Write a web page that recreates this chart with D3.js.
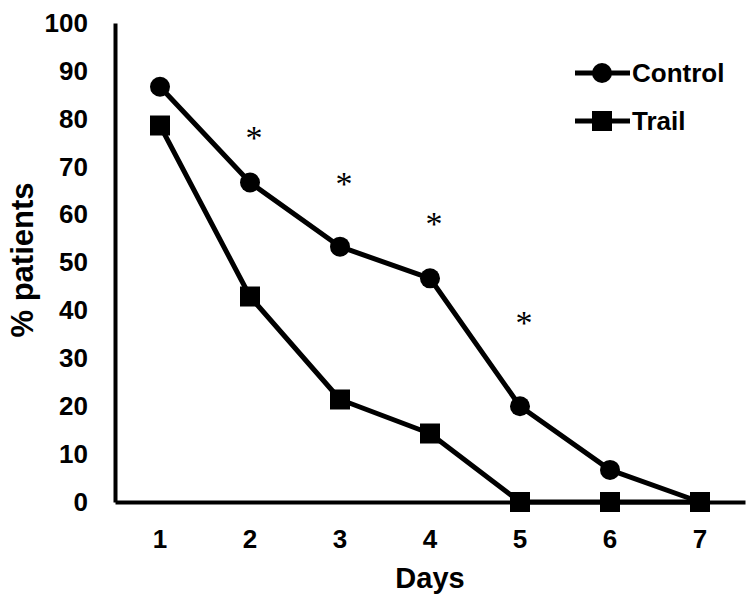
<!DOCTYPE html>
<html><head><meta charset="utf-8">
<script src="https://cdn.jsdelivr.net/npm/d3@7"></script>
<style>body{margin:0;background:#fff}svg{display:block}text{font-family:"Liberation Sans",Arial,sans-serif;font-weight:bold;fill:#000}</style>
</head><body><svg id="c" width="750" height="601"></svg>
<script>
const days = ["1","2","3","4","5","6","7"];
const control = [86.7, 66.7, 53.3, 46.7, 20, 6.7, 0];
const trail = [78.6, 42.9, 21.4, 14.3, 0, 0, 0];
const yTicks = [0,10,20,30,40,50,60,70,80,90,100];
const starDays = ["2","3","4","5"];
const starVals = [77, 67.5, 59, 38.5];

const svg = d3.select("#c");
const x = d3.scaleBand().domain(days).range([115, 745]).padding(0);
const y = d3.scaleLinear().domain([0, 100]).range([502, 23]);
const cx = d => x(d) + x.bandwidth()/2;

// axes
const ya = svg.append("g").attr("transform","translate(115,0)").call(d3.axisLeft(y).tickValues(yTicks).tickSize(0).tickPadding(27));
ya.select(".domain").attr("stroke","#000").attr("stroke-width",4);
ya.selectAll("text").attr("font-size",26).attr("font-family","Liberation Sans, Arial, sans-serif").attr("font-weight","bold");
const xa = svg.append("g").attr("transform","translate(0,502)").call(d3.axisBottom(x).tickSize(0).tickPadding(28));
xa.select(".domain").attr("stroke","#000").attr("stroke-width",4);
xa.selectAll("text").attr("font-size",26).attr("font-family","Liberation Sans, Arial, sans-serif").attr("font-weight","bold");

const line = d3.line().x((d,i)=>cx(days[i])).y(d=>y(d));
svg.append("path").attr("d", line(trail)).attr("fill","none").attr("stroke","#000").attr("stroke-width",5).attr("stroke-linejoin","round");
svg.append("path").attr("d", line(control)).attr("fill","none").attr("stroke","#000").attr("stroke-width",5).attr("stroke-linejoin","round");

svg.selectAll(".sq").data(trail).join("rect").attr("x",(d,i)=>cx(days[i])-10).attr("y",d=>y(d)-10).attr("width",20).attr("height",20).attr("fill","#000");
svg.selectAll(".ci").data(control).join("circle").attr("cx",(d,i)=>cx(days[i])).attr("cy",d=>y(d)).attr("r",10).attr("fill","#000");

// asterisks
svg.selectAll(".star").data(starDays).join("text").attr("x",(d)=>cx(d)+4).attr("y",(d,i)=>y(starVals[i])+16)
  .attr("text-anchor","middle").attr("font-size",34).style("font-family","Liberation Serif, Times New Roman, serif").style("font-weight","normal").text("*");

// legend
const leg = [{name:"Control", shape:"circle", y:73},{name:"Trail", shape:"square", y:121}];
leg.forEach(l=>{
  svg.append("line").attr("x1",575).attr("x2",630).attr("y1",l.y).attr("y2",l.y).attr("stroke","#000").attr("stroke-width",5);
  if(l.shape==="circle") svg.append("circle").attr("cx",602).attr("cy",l.y).attr("r",10).attr("fill","#000");
  else svg.append("rect").attr("x",592).attr("y",l.y-10).attr("width",20).attr("height",20).attr("fill","#000");
  svg.append("text").attr("x",632).attr("y",l.y+9).attr("font-size",26).text(l.name);
});

svg.append("text").attr("x",430).attr("y",588).attr("text-anchor","middle").attr("font-size",29).text("Days");
svg.append("text").attr("transform","translate(33,260) rotate(-90)").attr("text-anchor","middle").attr("font-size",31).text("% patients");
</script></body></html>
